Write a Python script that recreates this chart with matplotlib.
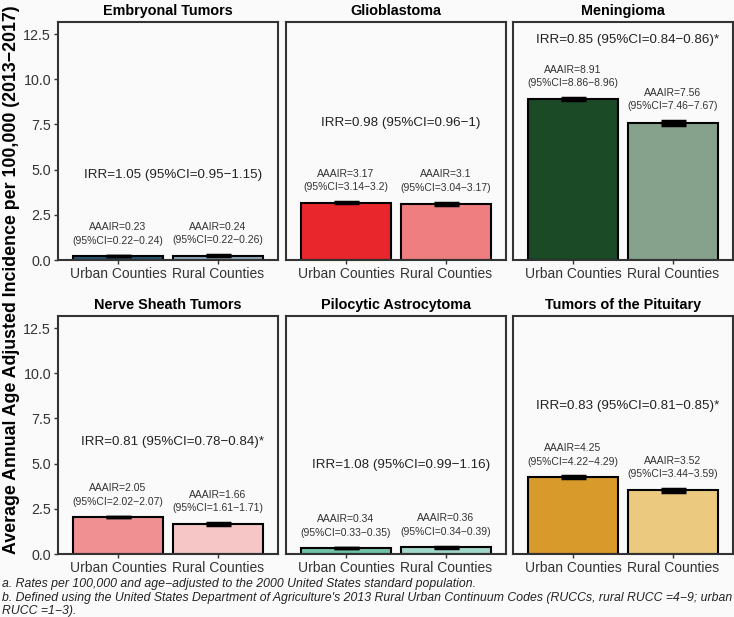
import matplotlib
matplotlib.use("Agg")
import matplotlib.pyplot as plt

plt.rcParams['font.family'] = ['Liberation Sans', 'DejaVu Sans']

# 数据
tumors = ["Embryonal Tumors", "Glioblastoma", "Meningioma",
          "Nerve Sheath Tumors", "Pilocytic Astrocytoma", "Tumors of the Pituitary"]
groups = ["Urban Counties", "Rural Counties"]

urban = [0.23, 3.17, 8.91, 2.05, 0.34, 4.25]
urban_lo = [0.22, 3.14, 8.86, 2.02, 0.33, 4.22]
urban_hi = [0.24, 3.2, 8.96, 2.07, 0.35, 4.29]
rural = [0.24, 3.1, 7.56, 1.66, 0.36, 3.52]
rural_lo = [0.22, 3.04, 7.46, 1.61, 0.34, 3.44]
rural_hi = [0.26, 3.17, 7.67, 1.71, 0.39, 3.59]

irr = [1.05, 0.98, 0.85, 0.81, 1.08, 0.83]
irr_lo = [0.95, 0.96, 0.84, 0.78, 0.99, 0.81]
irr_hi = [1.15, 1, 0.86, 0.84, 1.16, 0.85]
irr_sig = [False, False, True, True, False, True]

# 颜色 (urban, rural)
colors = [("#2b5672", "#8ea8bb"), ("#e8262b", "#ef7e80"), ("#1a4a26", "#87a28c"),
          ("#f09093", "#f6c6c7"), ("#6fc2a8", "#9fd7c9"), ("#d89a2a", "#ebc97f")]

# IRR 文本高度
irr_y = [4.7, 7.6, 12.2, 6.2, 4.9, 8.2]

bg = "#fafafa"
W, H = 734, 617
fig = plt.figure(figsize=(W / 100, H / 100), dpi=100, facecolor=bg)

lefts = [58, 286, 513]
tops = [22, 316]
pw, ph = 220, 238

fmt = lambda v: f"{v:g}"

for i, name in enumerate(tumors):
    r, c = divmod(i, 3)
    ax = fig.add_axes([lefts[c] / W, 1 - (tops[r] + ph) / H, pw / W, ph / H])
    ax.set_facecolor(bg)
    xs = [1, 2]
    vals = [urban[i], rural[i]]
    los = [urban_lo[i], rural_lo[i]]
    his = [urban_hi[i], rural_hi[i]]
    ax.bar(xs, vals, width=0.9, color=colors[i], edgecolor="black", linewidth=1.5, zorder=2)
    ax.vlines(xs, los, his, color="black", linewidth=2.5, zorder=3)
    for x, lo, hi in zip(xs, los, his):
        ax.hlines([lo, hi], x - 0.125, x + 0.125, color="black", linewidth=2.5, zorder=3)
    # AAAIR 标签
    for x, v, lo, hi in zip(xs, vals, los, his):
        ax.text(x, hi + 0.55, f"AAAIR={fmt(v)}\n(95%CI={fmt(lo)}\u2212{fmt(hi)})",
                ha="center", va="bottom", fontsize=7.5, color="#333333", linespacing=1.45)
    star = "*" if irr_sig[i] else ""
    ax.text(1.55, irr_y[i], f"IRR={fmt(irr[i])} (95%CI={fmt(irr_lo[i])}\u2212{fmt(irr_hi[i])}){star}",
            ha="center", va="center", fontsize=9.6, color="#222222")

    ax.set_xlim(0.4, 2.6)
    ax.set_ylim(0, 13.17)
    ax.set_xticks(xs)
    ax.set_xticklabels(groups, fontsize=10, color="#333333")
    ax.set_title(name, fontsize=10.4, fontweight="bold", pad=5)
    if c == 0:
        ax.set_yticks([0, 2.5, 5, 7.5, 10, 12.5])
        ax.set_yticklabels(["0.0", "2.5", "5.0", "7.5", "10.0", "12.5"], fontsize=10.3, color="#333333")
    else:
        ax.set_yticks([])
    ax.tick_params(axis="both", length=3, width=1, color="#333333", pad=2)
    for s in ax.spines.values():
        s.set_color("#333333")
        s.set_linewidth(1.5)

fig.text(12 / W, 1 - 280 / H, "Average Annual Age Adjusted Incidence per 100,000 (2013\u22122017)",
         rotation=90, ha="center", va="center", fontsize=12.8, fontweight="bold")

notes = ["a. Rates per 100,000 and age\u2212adjusted to the 2000 United States standard population.",
         "b. Defined using the United States Department of Agriculture's 2013 Rural Urban Continuum Codes (RUCCs, rural RUCC =4\u22129; urban",
         "RUCC =1\u22123)."]
for k, line in enumerate(notes):
    fig.text(2 / W, 1 - (584 + 13.5 * k) / H, line, ha="left", va="center",
             fontsize=8.8, style="italic", color="#222222")

fig.savefig("out.png", dpi=100, facecolor=bg)
